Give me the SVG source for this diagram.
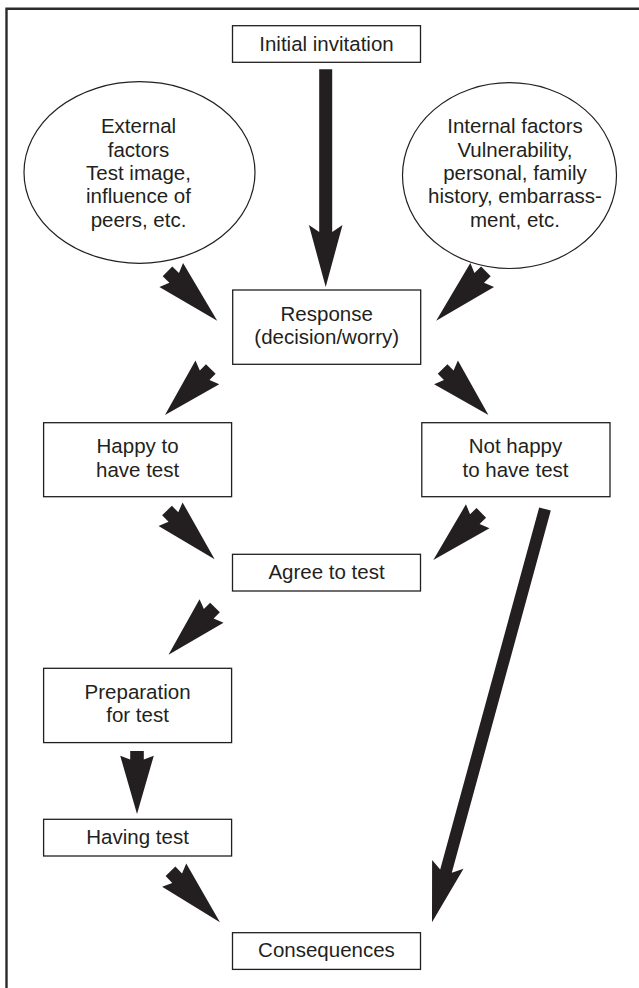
<svg xmlns="http://www.w3.org/2000/svg" xmlns:xlink="http://www.w3.org/1999/xlink" width="639" height="988" viewBox="0 0 639 988">
<style>
.box{fill:#fff;stroke:#231f20;stroke-width:1.3}
.ell{fill:#fff;stroke:#231f20;stroke-width:1.2}
.t{font-family:"Liberation Sans",Arial,sans-serif;font-size:20.5px;fill:#231f20;text-anchor:middle}
.arr{fill:#231f20;stroke:none}
</style>
<defs>
<path id="dart" d="M0,-6.8 L9,-6.8 L5,-16.8 L67,0 L5,16.8 L9,6.8 L0,6.8 Z"/>
</defs>
<rect width="639" height="988" fill="#fff"/>
<path d="M6.5,988 V8.7 H639" fill="none" stroke="#2b2b2b" stroke-width="2.4"/>

<g id="connectors" class="arr">
<polygon points="319.2,69.3 332.2,69.3 332.2,232 342.5,225 325.7,287 308.9,225 319.2,232"/>
<use xlink:href="#dart" transform="translate(167.5,271.3) rotate(44.8) scale(1.046,1)"/>
<use xlink:href="#dart" transform="translate(485.9,271.3) rotate(135.2) scale(1.046,1)"/>
<use xlink:href="#dart" transform="translate(210.8,369) rotate(134.9) scale(0.969,1)"/>
<use xlink:href="#dart" transform="translate(442.6,369) rotate(45.1) scale(0.969,1)"/>
<use xlink:href="#dart" transform="translate(167,510.5) rotate(45.7) scale(1.018,1)"/>
<use xlink:href="#dart" transform="translate(481.3,512.8) rotate(135.5) scale(1.004,1)"/>
<use xlink:href="#dart" transform="translate(215,607.5) rotate(134.5) scale(0.99,1)"/>
<use xlink:href="#dart" transform="translate(137,751) rotate(90) scale(0.94,1)"/>
<use xlink:href="#dart" transform="translate(170.5,871.3) rotate(45.9) scale(1.06,1)"/>
<polygon points="539.2,507.4 550.8,510.6 451.8,872.8 463.5,868.7 432,922.3 432.1,860.1 440.2,869.6"/>
</g>

<g id="initial">
<rect class="box" x="232.5" y="25.7" width="188" height="36.6"/>
<text class="t" x="326.5" y="51">Initial invitation</text>
</g>

<g id="external">
<ellipse class="ell" cx="139.5" cy="172.5" rx="115.5" ry="90.8"/>
<text class="t" x="138.5" y="133.3">External</text>
<text class="t" x="138.5" y="156.6">factors</text>
<text class="t" x="138.5" y="180">Test image,</text>
<text class="t" x="138.5" y="203.3">influence of</text>
<text class="t" x="138.5" y="226.6">peers, etc.</text>
</g>

<g id="internal">
<ellipse class="ell" cx="509.5" cy="175.6" rx="107" ry="92.9"/>
<text class="t" x="515" y="133.3">Internal factors</text>
<text class="t" x="515" y="156.6">Vulnerability,</text>
<text class="t" x="515" y="180">personal, family</text>
<text class="t" x="515" y="203.3">history, embarrass-</text>
<text class="t" x="515" y="226.6">ment, etc.</text>
</g>

<g id="response">
<rect class="box" x="232.7" y="290" width="188" height="74.3"/>
<text class="t" x="326.7" y="320.7">Response</text>
<text class="t" x="326.7" y="344">(decision/worry)</text>
</g>

<g id="happy">
<rect class="box" x="43.6" y="422.7" width="188" height="74"/>
<text class="t" x="137.6" y="453.4">Happy to</text>
<text class="t" x="137.6" y="476.7">have test</text>
</g>

<g id="nothappy">
<rect class="box" x="421.8" y="422.7" width="188.2" height="74"/>
<text class="t" x="515.5" y="453.4">Not happy</text>
<text class="t" x="515.5" y="476.7">to have test</text>
</g>

<g id="agree">
<rect class="box" x="232.5" y="554.3" width="188" height="36.7"/>
<text class="t" x="326.5" y="579">Agree to test</text>
</g>

<g id="preparation">
<rect class="box" x="43.6" y="668.3" width="188" height="74.3"/>
<text class="t" x="137.6" y="699">Preparation</text>
<text class="t" x="137.6" y="722.3">for test</text>
</g>

<g id="having">
<rect class="box" x="43.6" y="819.3" width="188" height="36.7"/>
<text class="t" x="137.6" y="844">Having test</text>
</g>

<g id="consequences">
<rect class="box" x="232.5" y="932.7" width="188" height="36.7"/>
<text class="t" x="326.5" y="957">Consequences</text>
</g>
</svg>
